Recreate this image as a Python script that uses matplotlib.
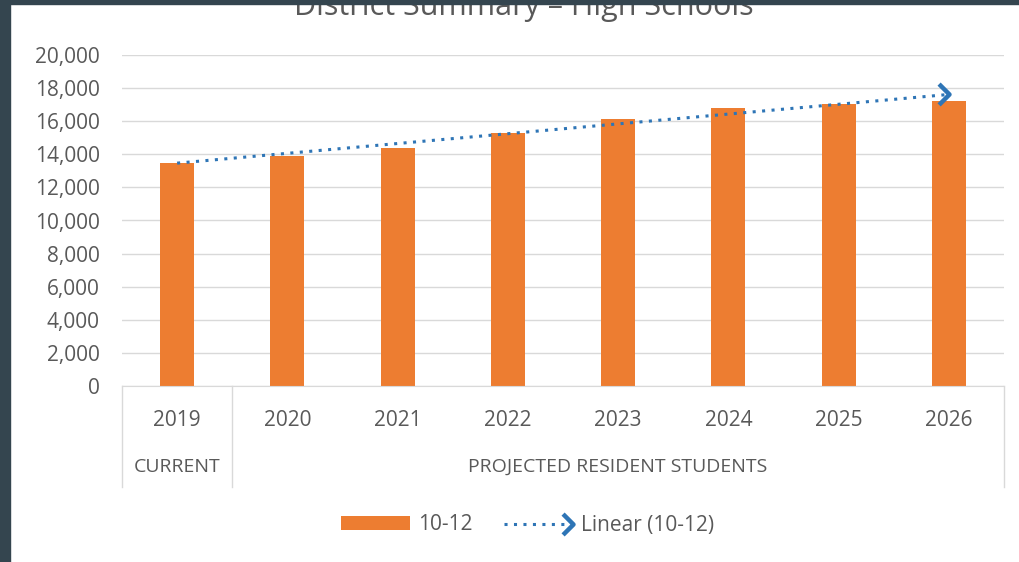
import numpy as np
import matplotlib.pyplot as plt
from matplotlib.path import Path
from matplotlib.lines import Line2D
from matplotlib.patches import Rectangle
from matplotlib.legend_handler import HandlerBase
from matplotlib.ticker import StrMethodFormatter

years = ['2019', '2020', '2021', '2022', '2023', '2024', '2025', '2026']
students = [13500, 13900, 14400, 15300, 16160, 16810, 17050, 17210]
groups = ['CURRENT', 'PROJECTED RESIDENT STUDENTS']
group_sizes = [1, 7]
yticks = np.arange(0, 20001, 2000)

plt.rcParams['font.family'] = ['Open Sans', 'DejaVu Sans']
txt = '#595959'
orange = '#ED7D31'
blue = '#2E75B6'
light = '#D9D9D9'
dots = (0, (1, 2.1))

# open chevron used as the trendline arrow head
chevron = Path([(-1, 1), (0, 0), (-1, -1)], [Path.MOVETO, Path.LINETO, Path.LINETO])

fig = plt.figure(figsize=(10.2, 5.62), dpi=100)
fig.patch.set_facecolor('white')
ax = fig.add_axes([122/1020, 1 - 386/562, (1004 - 122)/1020, 331/562])

x = np.arange(len(years))
bars = ax.bar(x, students, width=0.31, color=orange, zorder=2, label='10-12')

# linear trendline like excel
k, b = np.polyfit(x, students, 1)
xt = np.array([x[0], x[-1]])
ax.plot(xt, k*xt + b, color=blue, lw=2.2, linestyle=dots, zorder=3)
ax.plot(xt[-1:], k*xt[-1:] + b, marker=chevron, ms=15, mew=3.2, mfc='none',
        mec=blue, ls='none', zorder=3)

ax.set_xlim(-0.5, len(years) - 0.5)
ax.set_ylim(0, 20000)
ax.set_yticks(yticks)
ax.yaxis.set_major_formatter(StrMethodFormatter('{x:,.0f}'))
ax.grid(axis='y', color=light, lw=1, zorder=0)
for s in ['top', 'right', 'left']:
    ax.spines[s].set_visible(False)
ax.spines['bottom'].set_color(light)
ax.tick_params(axis='y', length=0, pad=16, labelsize=15, labelcolor=txt)
ax.set_xticks(x)
ax.set_xticklabels(years)
ax.tick_params(axis='x', length=0, pad=17, labelsize=15, labelcolor=txt)

# multi level category axis
tr = ax.get_xaxis_transform()
start = -0.5
ax.plot([start, start], [0, -0.305], color=light, lw=1, transform=tr, clip_on=False)
for name, n in zip(groups, group_sizes):
    end = start + n
    ax.plot([end, end], [0, -0.305], color=light, lw=1, transform=tr, clip_on=False)
    ax.text((start + end)/2, -0.245, name, transform=tr, ha='center', va='center',
            fontsize=14, color=txt)
    start = end


class ArrowHandler(HandlerBase):
    def create_artists(self, legend, orig, xd, yd, w, h, fontsize, trans):
        y = yd + h/2
        ln = Line2D([xd, xd + w], [y, y], color=blue, lw=2.2, linestyle=dots,
                    transform=trans)
        hd = Line2D([xd + w], [y], marker=chevron, ms=15, mew=3.2, mfc='none',
                    mec=blue, transform=trans)
        return [ln, hd]


trend_handle = Line2D([], [], color=blue, label='Linear (10-12)')
fig.legend(handles=[bars, trend_handle], loc='center', bbox_to_anchor=(528/1020, 1 - 525/562),
           ncol=2, frameon=False, fontsize=15, labelcolor=txt, handlelength=3.3,
           handleheight=0.65, handletextpad=0.4, columnspacing=1.5,
           handler_map={trend_handle: ArrowHandler()})

fig.text(524/1020, 1 - 15/562, 'District Summary \u2013 High Schools', ha='center',
         va='baseline', fontsize=22, color=txt)

# dark frame from the screenshot
fig.add_artist(Rectangle((0, 0), 10/1020, 1, transform=fig.transFigure,
                         color='#34454F', zorder=10))
fig.add_artist(Rectangle((0, 1 - 4/562), 1, 4/562, transform=fig.transFigure,
                         color='#34454F', zorder=10))

plt.savefig('out.png', dpi=100)
